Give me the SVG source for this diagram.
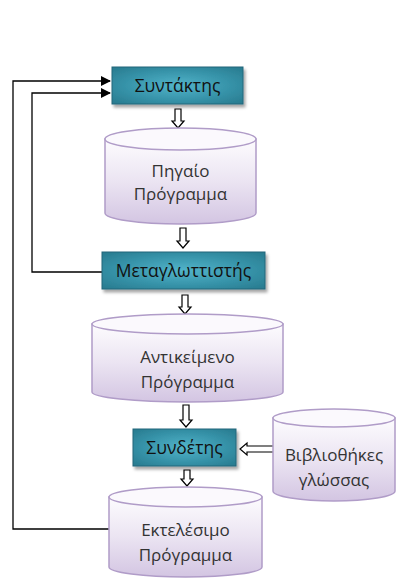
<svg xmlns="http://www.w3.org/2000/svg" width="396" height="579" viewBox="0 0 396 579">
<defs>
<radialGradient id="boxg" cx="0.5" cy="0.5" r="0.7">
<stop offset="0" stop-color="#52b4ca"/>
<stop offset="0.6" stop-color="#3591a7"/>
<stop offset="1" stop-color="#287a8e"/>
</radialGradient>
<linearGradient id="cylg" x1="0" y1="0" x2="0" y2="1">
<stop offset="0" stop-color="#fdfcfe"/>
<stop offset="0.5" stop-color="#ebe4f2"/>
<stop offset="1" stop-color="#d3c5e2"/>
</linearGradient>
<filter id="sh" x="-10%" y="-10%" width="130%" height="140%">
<feDropShadow dx="2" dy="3" stdDeviation="1.5" flood-color="#000" flood-opacity="0.35"/>
</filter>
<marker id="ah" markerWidth="10" markerHeight="10" refX="9" refY="5" orient="auto" markerUnits="userSpaceOnUse">
<path d="M0,0 L10,5 L0,10 z" fill="#000"/>
</marker>
</defs>
<style>
.box{fill:url(#boxg);stroke:#22667a;stroke-width:1;filter:url(#sh)}
.cyl{fill:url(#cylg);stroke:#b09cc8;stroke-width:1.5}
.top{fill:#fbf9fd;stroke:#b09cc8;stroke-width:1.5}
.bt{font-family:"Open Sans","Noto Sans",sans-serif;font-size:17.5px;fill:#111;text-anchor:middle}
.ct{font-family:"Open Sans","Noto Sans",sans-serif;font-size:17px;fill:#333;text-anchor:middle}
.ln{fill:none;stroke:#000;stroke-width:1.3}
.ha{fill:#fff;stroke:#000;stroke-width:1.2}
</style>
<g id="connectors">
<polyline class="ln" points="110,529 13,529 13,81 110,81" marker-end="url(#ah)"/>
<polyline class="ln" points="102,272 32,272 32,93 110,93" marker-end="url(#ah)"/>
<path class="ha" d="M175,109 h6 v12 h3 l-6,7 l-6,-7 h3 z"/>
<path class="ha" d="M180,228 h6 v13 h3 l-6,7 l-6,-7 h3 z"/>
<path class="ha" d="M182,295 h6 v12 h3 l-6,7 l-6,-7 h3 z"/>
<path class="ha" d="M183,405 h6 v15 h3 l-6,7 l-6,-7 h3 z"/>
<path class="ha" d="M184,470 h6 v9 h3 l-6,7 l-6,-7 h3 z"/>
<path class="ha" d="M274,446 h-27 v-3 l-7,6 l7,6 v-3 h27 z"/>
</g>
<g id="syntaktis">
<rect class="box" x="112" y="67" width="131" height="37"/>
<text class="bt" x="177.5" y="92">Συντάκτης</text>
</g>
<g id="pigaio">
<path class="cyl" d="M105,139 V213 A75.5,11 0 0 0 256,213 V139 Z"/>
<ellipse class="top" cx="180.5" cy="139" rx="75.5" ry="11"/>
<text class="ct" x="180.5" y="177">Πηγαίο</text>
<text class="ct" x="180.5" y="200">Πρόγραμμα</text>
</g>
<g id="metaglottistis">
<rect class="box" x="102" y="252" width="163" height="37"/>
<text class="bt" x="183.5" y="277">Μεταγλωττιστής</text>
</g>
<g id="antikeimeno">
<path class="cyl" d="M92,324 V392 A95.5,10 0 0 0 283,392 V324 Z"/>
<ellipse class="top" cx="187.5" cy="324" rx="95.5" ry="10"/>
<text class="ct" x="187.5" y="363">Αντικείμενο</text>
<text class="ct" x="187.5" y="388">Πρόγραμμα</text>
</g>
<g id="syndetis">
<rect class="box" x="133" y="429" width="103" height="37"/>
<text class="bt" x="184.5" y="454">Συνδέτης</text>
</g>
<g id="vivliothikes">
<path class="cyl" d="M273,418 V491 A61,10 0 0 0 395,491 V418 Z"/>
<ellipse class="top" cx="334" cy="418" rx="61" ry="9"/>
<text class="ct" x="334" y="461">Βιβλιοθήκες</text>
<text class="ct" x="334" y="486">γλώσσας</text>
</g>
<g id="ektelesimo">
<path class="cyl" d="M109,497 V567 A76.5,10 0 0 0 262,567 V497 Z"/>
<ellipse class="top" cx="185.5" cy="497" rx="76.5" ry="10"/>
<text class="ct" x="185.5" y="536">Εκτελέσιμο</text>
<text class="ct" x="185.5" y="561">Πρόγραμμα</text>
</g>
</svg>
